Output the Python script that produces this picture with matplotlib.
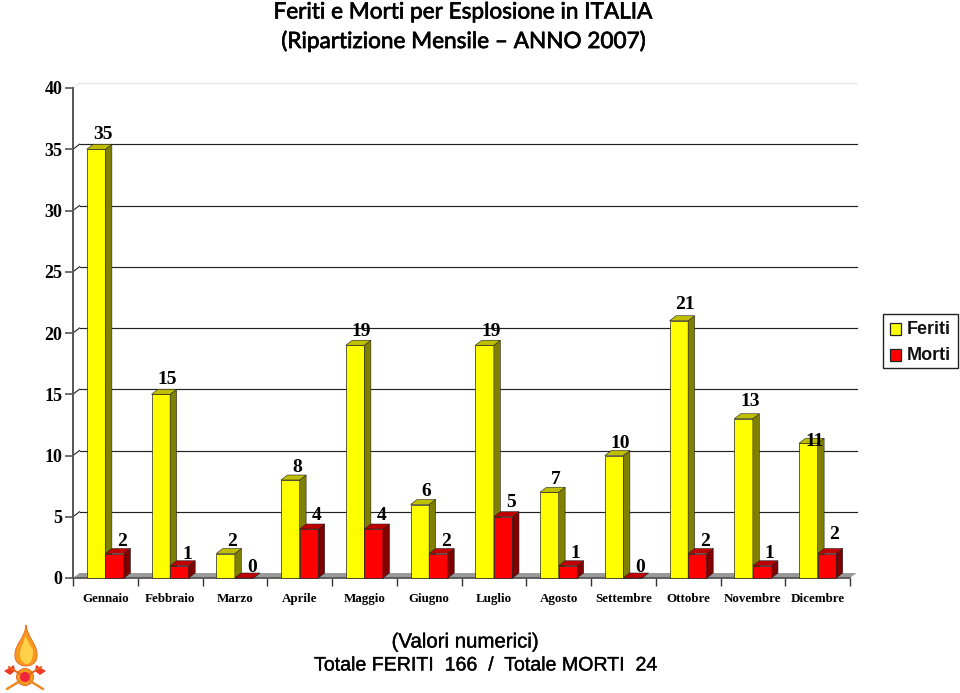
import matplotlib
matplotlib.use("Agg")
import matplotlib.pyplot as plt
import matplotlib.patheffects as pe
from matplotlib.patches import Polygon, Circle, PathPatch, Rectangle
from matplotlib.path import Path

mesi = ["Gennaio", "Febbraio", "Marzo", "Aprile", "Maggio", "Giugno", "Luglio",
        "Agosto", "Settembre", "Ottobre", "Novembre", "Dicembre"]
feriti = [35, 15, 2, 8, 19, 6, 19, 7, 10, 21, 13, 11]
morti = [2, 1, 0, 4, 4, 2, 5, 1, 0, 2, 1, 2]
y_ticks = [0, 5, 10, 15, 20, 25, 30, 35, 40]

# layout (pixels)
W, H = 960, 693
L, R, B, T = 73, 850, 578, 88
DX, DY = 6.5, 5
GAP_F = [15, 15, 12.5, 13, 14, 13.5, 14, 13, 12.5, 16, 17, 2]
GAP_M = [12.5, 11, 11, 14, 14, 12.5, 14, 12, 11, 12.5, 12, 19]

fig = plt.figure(figsize=(W / 100, H / 100), dpi=100)
ax = fig.add_axes([L / W, 1 - B / H, (R - L) / W, (B - T) / H])
ax.set_xlim(0, 12)
ax.set_ylim(0, 40)
for s in ("top", "right", "bottom"):
    ax.spines[s].set_visible(False)
ax.spines["left"].set_color("#555555")
ax.spines["left"].set_linewidth(1.4)
ax.patch.set_visible(False)

ux = 12 / (R - L)
uy = 40 / (B - T)
ddx, ddy = DX * ux, DY * uy
BW = 18.6 * ux

SERIF = "Liberation Serif"
SANS = "Liberation Sans"
GRID = "#222222"
heavy = [pe.withStroke(linewidth=0.25, foreground="black")]

# floor
ax.add_patch(Polygon([(0, 0), (12, 0), (12 + ddx, ddy), (ddx, ddy)], closed=True,
                     fc="#9a9a9a", ec="none", zorder=1.5, clip_on=False))
ax.plot([0, 12], [0, 0], color="#555555", lw=1.3, zorder=2, clip_on=False)

# gridlines + diagonals
for v in y_ticks[1:]:
    c = "#e6e6e6" if v == 40 else GRID
    ax.plot([ddx, 12 + ddx], [v + ddy, v + ddy], color=c, lw=0.85, zorder=1, clip_on=False)
    ax.plot([0, ddx], [v, v + ddy], color=c, lw=0.8, zorder=1, clip_on=False)

ax.set_yticks(y_ticks)
ax.set_yticklabels([str(v) for v in y_ticks], fontfamily=SERIF, fontweight="bold", fontsize=13)
ax.tick_params(axis="y", length=5.5, width=1.2, color="#555555", pad=2)
ax.set_xticks(range(13))
ax.set_xticklabels([])
ax.tick_params(axis="x", which="major", length=5.5, width=1.0, color="#333333")
ax.set_xticks([i + 0.5 for i in range(12)], minor=True)
ax.set_xticklabels(mesi, minor=True, fontfamily=SERIF, fontweight="bold", fontsize=9.4)
ax.tick_params(axis="x", which="minor", length=0, pad=10.5)


def bar3d(x0, v, front, top, side):
    ax.bar(x0, v, BW, align="edge", color=front, ec="#222222", lw=0.5, zorder=3, clip_on=False)
    ax.add_patch(Polygon([(x0 + BW, 0), (x0 + BW + ddx, ddy), (x0 + BW + ddx, v + ddy), (x0 + BW, v)],
                         closed=True, fc=side, ec="#222222", lw=0.4, zorder=3, clip_on=False))
    ax.add_patch(Polygon([(x0, v), (x0 + ddx, v + ddy), (x0 + BW + ddx, v + ddy), (x0 + BW, v)],
                         closed=True, fc=top, ec="#222222", lw=0.4, zorder=3, clip_on=False))


for i, (f, m) in enumerate(zip(feriti, morti)):
    c = i + 0.5
    bar3d(c - BW, f, "#FFFF00", "#BFBF00", "#808000")
    bar3d(c, m, "#FF0000", "#C00000", "#800000")
    for val, xc, off, gap in ((f, c - BW / 2, 6.5, GAP_F[i]), (m, c + BW / 2, 7.5, GAP_M[i])):
        ax.annotate(str(val), (xc, val), xytext=(off * 0.72, gap * 0.72), textcoords="offset points",
                    ha="center", va="center", fontfamily=SERIF, fontsize=14, fontweight="bold", zorder=5,
                    annotation_clip=False)

# titles
for y, txt in ((12, "Feriti e Morti per Esplosione in ITALIA"),
               (41, "(Ripartizione Mensile \u2013 ANNO 2007)")):
    fig.text(464 / W, 1 - y / H, txt, ha="center", va="center", family="Lato", fontsize=16.25,
             path_effects=[pe.withStroke(linewidth=0.5, foreground="black")])
fig.text(465 / W, 1 - 642 / H, "(Valori numerici)", ha="center", va="center", family=SANS, fontsize=14.7,
         path_effects=heavy)
fig.text(487 / W, 1 - 665 / H, "Totale FERITI  166  /  Totale MORTI  24", ha="center", va="center",
         family=SANS, fontsize=14.1, path_effects=heavy)

# overlay in pixel coordinates: legend box and emblem
ov = fig.add_axes([0, 0, 1, 1])
ov.set_xlim(0, W)
ov.set_ylim(H, 0)
ov.axis("off")
ov.add_patch(Rectangle((883, 313.5), 75, 54, fc="white", ec="#222222", lw=1))
for y, col, lab in ((329, "#FFFF00", "Feriti"), (355, "#FF0000", "Morti")):
    ov.add_patch(Rectangle((889.5, y - 6), 11.5, 12, fc=col, ec="#222222", lw=0.9))
    ov.text(907, y, lab, ha="left", va="center", family=SANS, fontsize=13, fontweight="bold", color="#111111")

# emblem
flame_out = Path([(26, 625), (25, 638), (15, 644), (15, 654), (14, 662), (20, 666), (26, 666),
                  (33, 666), (38, 661), (37, 653), (36, 643), (28, 638), (26, 625)],
                 [1] + [4] * 12)
ov.add_patch(PathPatch(flame_out, fc="#F59A1E", ec="#E8641A", lw=0.6))
flame_in = Path([(25, 636), (24, 645), (19, 649), (20, 656), (21, 662), (25, 664), (27, 664),
                 (32, 663), (33, 656), (33, 650)],
                [1] + [4] * 9)
ov.add_patch(PathPatch(flame_in, fc="#FFD24A", ec="none"))
ov.plot([7, 20], [689, 681], color="#F08A24", lw=1.8, solid_capstyle="round")
ov.plot([43, 30], [689, 681], color="#F08A24", lw=1.8, solid_capstyle="round")
ov.plot([9, 20], [667, 674], color="#E8641A", lw=1.4)
ov.plot([41, 30], [667, 674], color="#E8641A", lw=1.4)
ov.add_patch(Polygon([(4, 671), (14, 665), (15, 671), (10, 675)], fc="#EE3B24", ec="none"))
ov.add_patch(Polygon([(46, 671), (36, 665), (35, 671), (40, 675)], fc="#EE3B24", ec="none"))
ov.add_patch(Circle((25, 677), 8.5, fc="#F59A1E", ec="#D8641A", lw=0.6))
ov.add_patch(Circle((25, 677), 5, fc="#F0243C", ec="none"))

fig.savefig("out.png", dpi=100)
